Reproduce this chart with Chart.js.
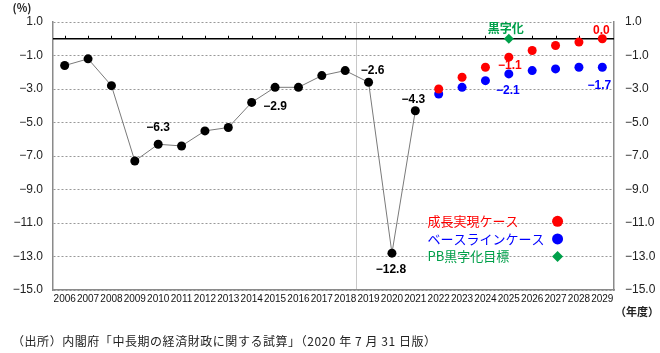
<!DOCTYPE html>
<html><head><meta charset="utf-8">
<script src="https://cdn.jsdelivr.net/npm/chart.js@4.4.1/dist/chart.umd.min.js"></script>
<style>
html,body{margin:0;padding:0;background:#fff;}
#wrap{position:relative;width:660px;height:353px;}
#caption{position:absolute;left:12px;top:333px;font:12px "Noto Sans CJK JP",sans-serif;letter-spacing:0.55px;color:#222;white-space:nowrap;line-height:16px;}
</style></head><body>
<div id="wrap"><canvas id="c" width="660" height="353"></canvas>
<div id="caption">（出所）内閣府「中長期の経済財政に関する試算」（2020 年 7 月 31 日版）</div></div>
<script>
// ---- data ----
const years = ['2006','2007','2008','2009','2010','2011','2012','2013','2014','2015','2016','2017','2018','2019','2020','2021','2022','2023','2024','2025','2026','2027','2028','2029'];
const actual = [-1.6,-1.2,-2.8,-7.3,-6.3,-6.4,-5.5,-5.3,-3.8,-2.9,-2.9,-2.2,-1.9,-2.6,-12.8,-4.3,null,null,null,null,null,null,null,null];
const growthCase = [null,null,null,null,null,null,null,null,null,null,null,null,null,null,null,null,-3.0,-2.3,-1.7,-1.1,-0.7,-0.4,-0.2,0.0];
const baselineCase = [null,null,null,null,null,null,null,null,null,null,null,null,null,null,null,null,-3.3,-2.9,-2.5,-2.1,-1.9,-1.8,-1.7,-1.7];
const pbTarget = [null,null,null,null,null,null,null,null,null,null,null,null,null,null,null,null,null,null,null,0.0,null,null,null,null];
const yTicks = [1,-1,-3,-5,-7,-9,-11,-13,-15];
const legendNames = ['成長実現ケース','ベースラインケース','PB黒字化目標'];

// labels: [dataset index, point index, text]
const pointLabels = [
  [0,4,'−6.3'],[0,9,'−2.9'],[0,13,'−2.6'],[0,15,'−4.3'],[0,14,'−12.8'],
  [1,19,'−1.1'],[1,23,'0.0'],[2,19,'−2.1'],[2,23,'−1.7'],[3,19,'黒字化']
];
// label offsets (style, not data)
const labelOffsets = [[0,-17],[0,19],[4,-12],[-2,-11],[-1,17],[1,9],[-1,-8],[-1,17],[-3,18],[-3,-10]];

const RED='#ff0000', BLUE='#0000ff', GREEN='#00a04a';
const dsColors = ['#000000', RED, BLUE, GREEN];

const annot = {
  id:'annot',
  beforeDatasetsDraw(chart){
    const {ctx, chartArea:a, scales:{x,y}} = chart;
    const y0 = y.getPixelForValue(0);
    ctx.save();
    ctx.strokeStyle='#000'; ctx.lineWidth=1.5;
    ctx.beginPath(); ctx.moveTo(a.left,y0); ctx.lineTo(a.right,y0); ctx.stroke();
    ctx.lineWidth=1;
    for(let i=0;i<years.length;i++){
      const px = Math.round(x.getPixelForValue(i))+0.5;
      ctx.beginPath(); ctx.moveTo(px,y0); ctx.lineTo(px,y0-3); ctx.stroke();
    }
    ctx.restore();
  },
  afterDatasetsDraw(chart){
    const {ctx, chartArea:a, scales:{x,y}} = chart;
    ctx.save();
    ctx.textAlign='center'; ctx.textBaseline='middle';
    pointLabels.forEach((l,k)=>{
      const [di,pi,txt]=l;
      const meta = chart.getDatasetMeta(di).data[pi];
      const [dx,dy]=labelOffsets[k];
      ctx.fillStyle = dsColors[di];
      ctx.font = di===3 ? 'bold 12px "Noto Sans CJK JP", sans-serif' : 'bold 12px "Liberation Sans", Arial, sans-serif';
      ctx.fillText(txt, meta.x+dx, meta.y+dy);
    });
    // legend
    const mx = x.getPixelForValue(21)+2;
    const lx = mx-130;
    const ly = [-10.9,-11.95,-13.0].map(v=>y.getPixelForValue(v));
    const lc = [RED,BLUE,GREEN];
    ctx.textAlign='left';
    ctx.font='13px "Noto Sans CJK JP", sans-serif';
    legendNames.forEach((n,i)=>{
      ctx.fillStyle=lc[i];
      ctx.fillText(n,lx,ly[i]);
      ctx.beginPath();
      if(i<2){ ctx.arc(mx,ly[i],5.5,0,Math.PI*2); }
      else { ctx.moveTo(mx,ly[i]-5.5); ctx.lineTo(mx+5.5,ly[i]); ctx.lineTo(mx,ly[i]+5.5); ctx.lineTo(mx-5.5,ly[i]); ctx.closePath(); }
      ctx.fill();
    });
    // unit labels
    ctx.fillStyle='#222';
    ctx.textAlign='center';
    ctx.font='bold 11px "Noto Sans CJK JP", sans-serif';
    ctx.fillText('(%)',22,8);
    ctx.fillText('（年度）',637,312);
    ctx.restore();
  }
};

const tickFmt = v => (v<0?'−':'') + Math.abs(v).toFixed(1);
const yCommon = {
  min:-15, max:1,
  afterBuildTicks: s => { s.ticks = yTicks.map(v=>({value:v})); },
  ticks:{ callback: tickFmt, color:'#222', font:{size:12, family:'"Liberation Sans", Arial, sans-serif'} }
};

new Chart(document.getElementById('c'), {
  type:'line',
  data:{
    labels: years,
    datasets:[
      {data:actual, borderColor:'#7a7a7a', borderWidth:1, pointBackgroundColor:'#000', pointBorderColor:'#000', pointRadius:4.5, pointBorderWidth:0, spanGaps:false, yAxisID:'y'},
      {data:growthCase, showLine:false, pointBackgroundColor:RED, pointBorderColor:RED, pointRadius:4.5, pointBorderWidth:0, yAxisID:'y'},
      {data:baselineCase, showLine:false, pointBackgroundColor:BLUE, pointBorderColor:BLUE, pointRadius:4.5, pointBorderWidth:0, yAxisID:'y'},
      {data:pbTarget, showLine:false, pointStyle:'rectRot', pointBackgroundColor:GREEN, pointBorderColor:GREEN, pointRadius:5, pointBorderWidth:0, yAxisID:'y'}
    ]
  },
  options:{
    responsive:false, animation:false, devicePixelRatio:1,
    layout:{padding:{top:22,bottom:33,left:0,right:0}},
    plugins:{legend:{display:false}, tooltip:{enabled:false}},
    scales:{
      x:{
        offset:true,
        grid:{offset:true, drawTicks:false, lineWidth:1, color: c => (c.index===13 ? '#c8c8c8' : 'rgba(0,0,0,0)')},
        border:{display:true, color:'#8a8a8a', width:1.5},
        ticks:{autoSkip:false, maxRotation:0, minRotation:0, padding:3, color:'#111', font:{size:10, family:'"Liberation Sans", Arial, sans-serif'}},
        afterFit: s => { s.height = 30; }
      },
      y:Object.assign({}, yCommon, {
        position:'left',
        grid:{drawTicks:false, color:'#999999', lineWidth:1},
        border:{display:true, color:'#8a8a8a', width:1.5, dash:[2,2]},
        ticks:Object.assign({}, yCommon.ticks, {padding:10}),
        afterFit: s => { s.width = 53; }
      }),
      y2:Object.assign({}, yCommon, {
        position:'right',
        grid:{display:false, drawTicks:false},
        border:{display:true, color:'#8a8a8a', width:1.5},
        ticks:Object.assign({}, yCommon.ticks, {padding:11}),
        afterFit: s => { s.width = 46; }
      })
    }
  },
  plugins:[annot]
});
</script>
</body></html>
